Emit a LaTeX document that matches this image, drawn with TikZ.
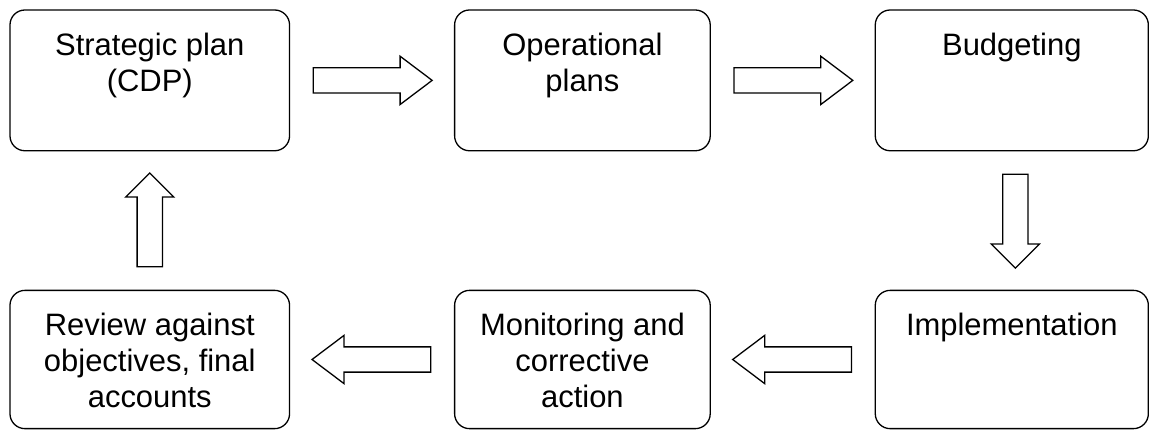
\documentclass[tikz,border=0pt]{standalone}
\usepackage{fontspec}
\setmainfont{Liberation Sans}
\usetikzlibrary{positioning,calc,shapes.arrows}
\definecolor{ink}{RGB}{0,0,0}
\tikzset{
  stage/.style={draw=ink, line width=1.3pt, rounded corners=15pt, fill=white,
                inner sep=0pt, text=ink},
  flow/.style={single arrow, draw=ink, line width=1.3pt, fill=white, anchor=tail,
               inner xsep=0pt, inner ysep=12pt, single arrow head extend=11.5pt},
  hflow/.style={flow, minimum height=119pt, single arrow tip angle=74},
  vflow/.style={flow, minimum height=94pt, single arrow tip angle=90},
}
% text of a stage box, hung from the top edge
\newcommand{\stagetext}[3]{\parbox[c][#2][t]{#1}{\centering
  \fontsize{31pt}{36pt}\selectfont\vspace*{20pt}\strut #3}}

\begin{document}
\begin{tikzpicture}[x=1pt, y=-1pt]
  \fill[white] (0,0) rectangle (1149,429);

  % planning cycle, top row left to right, bottom row right to left
  \node[stage] (plan) at (150,80.5)
    {\stagetext{280pt}{141pt}{Strategic plan\\(CDP)}};
  \node[stage, right=164pt of plan] (ops)
    {\stagetext{256pt}{141pt}{Operational\\plans}};
  \node[stage, right=164pt of ops] (budget)
    {\stagetext{273.5pt}{141pt}{Budgeting}};
  \node[stage, below=138.5pt of budget] (impl)
    {\stagetext{273.5pt}{138.5pt}{Implementation}};
  \node[stage, below=138.5pt of ops] (monitor)
    {\stagetext{256pt}{138.5pt}{Monitoring and\\corrective\\action}};
  \node[stage, below=138.5pt of plan] (review)
    {\stagetext{280pt}{138.5pt}{Review against\\objectives, final\\accounts}};

  % hollow block arrows, centred in the gaps between the stages
  \node[hflow] (plan-ops) at ($(plan.east)!0.5!(ops.west)+(-59.5pt,0pt)$) {};
  \node[hflow] (ops-budget) at ($(ops.east)!0.5!(budget.west)+(-59.5pt,0pt)$) {};
  \node[vflow, rotate=-90] (budget-impl) at ($(budget.south)!0.5!(impl.north)+(3.5pt,47pt)$) {};
  \node[hflow, rotate=180] (impl-monitor) at ($(impl.west)!0.5!(monitor.east)+(59.5pt,0pt)$) {};
  \node[hflow, rotate=180] (monitor-review) at ($(monitor.west)!0.5!(review.east)+(59.5pt,0pt)$) {};
  \node[vflow, rotate=90] (review-plan) at ($(review.north)!0.5!(plan.south)+(0pt,-47pt)$) {};
\end{tikzpicture}
\end{document}
